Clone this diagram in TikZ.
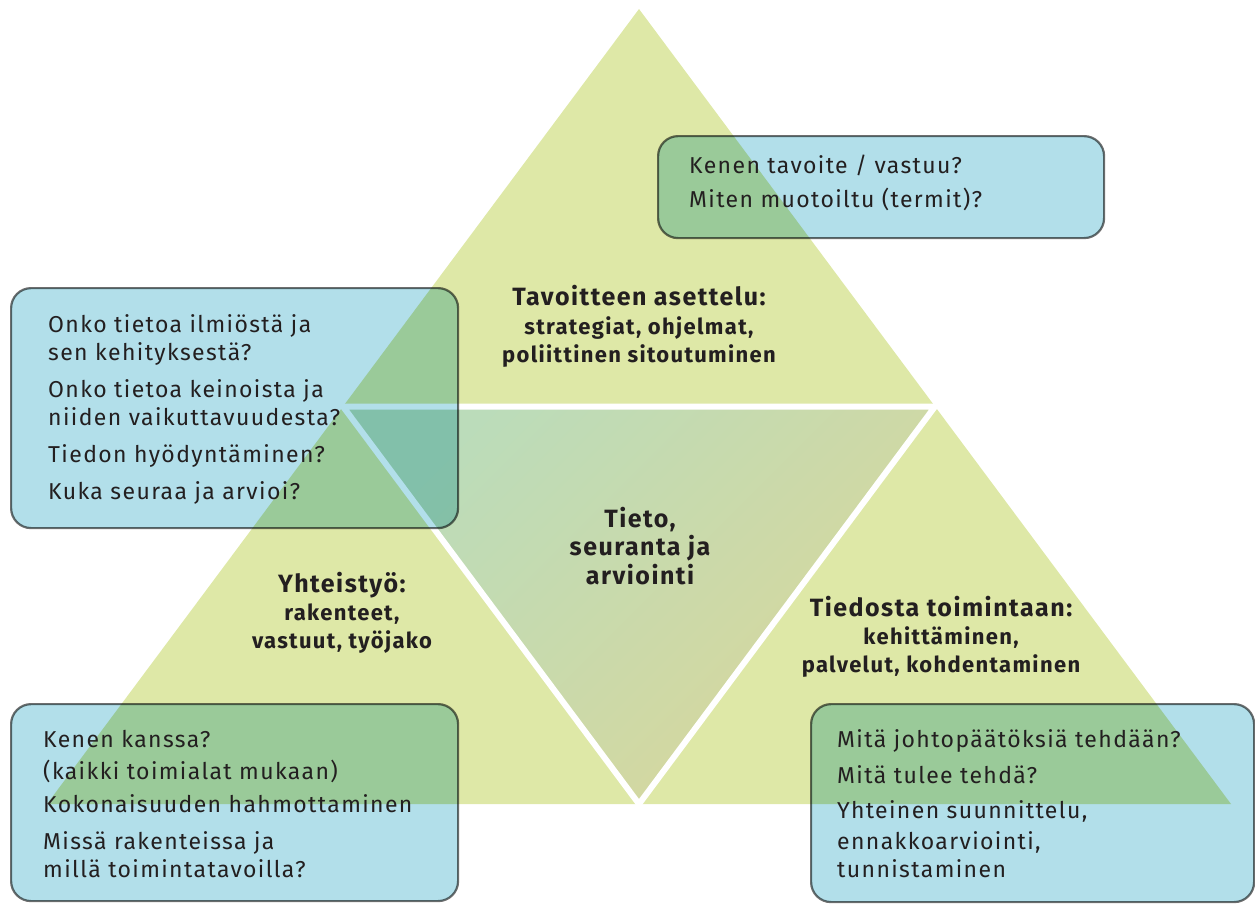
\documentclass[tikz,border=0pt]{standalone}
\usepackage{fontspec}
\setmainfont[LetterSpace=6]{Fira Sans}
\definecolor{trigreen}{HTML}{DEE8A7}
\definecolor{boxblue}{HTML}{B2DFEA}
\definecolor{midA}{HTML}{BBDCBA}
\definecolor{midB}{HTML}{D9D79B}
\definecolor{txt}{HTML}{231F20}
\definecolor{framegray}{HTML}{6E6E6E}
\tikzset{
  qbox/.style={draw=framegray, fill=boxblue, line width=2.2pt, rounded corners=20pt,
    blend mode=multiply, anchor=north west, inner sep=0pt},
  qtext/.style={anchor=base west, inner sep=0pt, text=txt,
    font=\fontsize{23}{28}\selectfont},
  ttext/.style={anchor=base, inner sep=0pt, text=txt,
    font=\fontsize{22}{28}\selectfont\bfseries},
}
\newcommand{\ql}[1]{\begin{tabular}[t]{@{}l@{}}#1\end{tabular}}
\newcommand{\tl}[1]{\begin{tabular}[t]{@{}c@{}}#1\end{tabular}}
\newcommand{\titlesz}{\fontsize{25}{28}\selectfont}
\newcommand{\midsz}{\fontsize{25}{31}\selectfont}
\begin{document}
\begin{tikzpicture}[x=1pt,y=-1pt]
\useasboundingbox (0,0) rectangle (1255,903);
% triangle
\coordinate (A) at (639,9);
\coordinate (B) at (47,804);
\coordinate (C) at (1231,804);
\coordinate (AB) at (343,406.5);
\coordinate (AC) at (935,406.5);
\coordinate (BC) at (639,804);
\fill[trigreen] (A)--(B)--(C)--cycle;
\shade[top color=midA, bottom color=midB, shading angle=45] (AB)--(AC)--(BC)--cycle;
\draw[white, line width=6pt] (AB)--(AC)--(BC)--cycle;
% labels in triangles
\node[ttext] (top) at (639,305) {\tl{{\titlesz Tavoitteen asettelu:}\\[1pt] strategiat, ohjelmat,\\ poliittinen sitoutuminen}};
\node[ttext] (mid) at (640,527) {\tl{{\midsz Tieto,}\\ {\midsz seuranta ja}\\ {\midsz arviointi}}};
\node[ttext] (left) at (342,592) {\tl{{\titlesz Yhteistyö:}\\ rakenteet,\\ vastuut, työjako}};
\node[ttext] (right) at (941,616) {\tl{{\titlesz Tiedosta toimintaan:}\\ kehittäminen,\\ palvelut, kohdentaminen}};
% boxes
\node[qbox, minimum width=446pt, minimum height=102pt] (q1) at (657,135) {};
\node[qbox, minimum width=447pt, minimum height=240pt] (q2) at (10,287) {};
\node[qbox, minimum width=447pt, minimum height=197pt] (q3) at (10,703) {};
\node[qbox, minimum width=443pt, minimum height=198pt] (q4) at (810,703) {};
% box texts
\node[qtext] (t1) at (689,173) {\ql{Kenen tavoite / vastuu?\\[6pt] Miten muotoiltu (termit)?}};
\node[qtext] (t2) at (48,332) {\ql{Onko tietoa ilmiöstä ja\\ sen kehityksestä?\\[9pt] Onko tietoa keinoista ja\\ niiden vaikuttavuudesta?\\[9pt] Tiedon hyödyntäminen?\\[9pt] Kuka seuraa ja arvioi?}};
\node[qtext] (t3) at (43,747) {\ql{Kenen kanssa?\\[4pt] (kaikki toimialat mukaan)\\[5pt] Kokonaisuuden hahmottaminen\\[9pt] Missä rakenteissa ja\\ millä toimintatavoilla?}};
\node[qtext] (t4) at (837,747) {\ql{Mitä johtopäätöksiä tehdään?\\[8pt] Mitä tulee tehdä?\\[7pt] Yhteinen suunnittelu,\\[3pt] ennakkoarviointi,\\ tunnistaminen}};
\end{tikzpicture}
\end{document}
